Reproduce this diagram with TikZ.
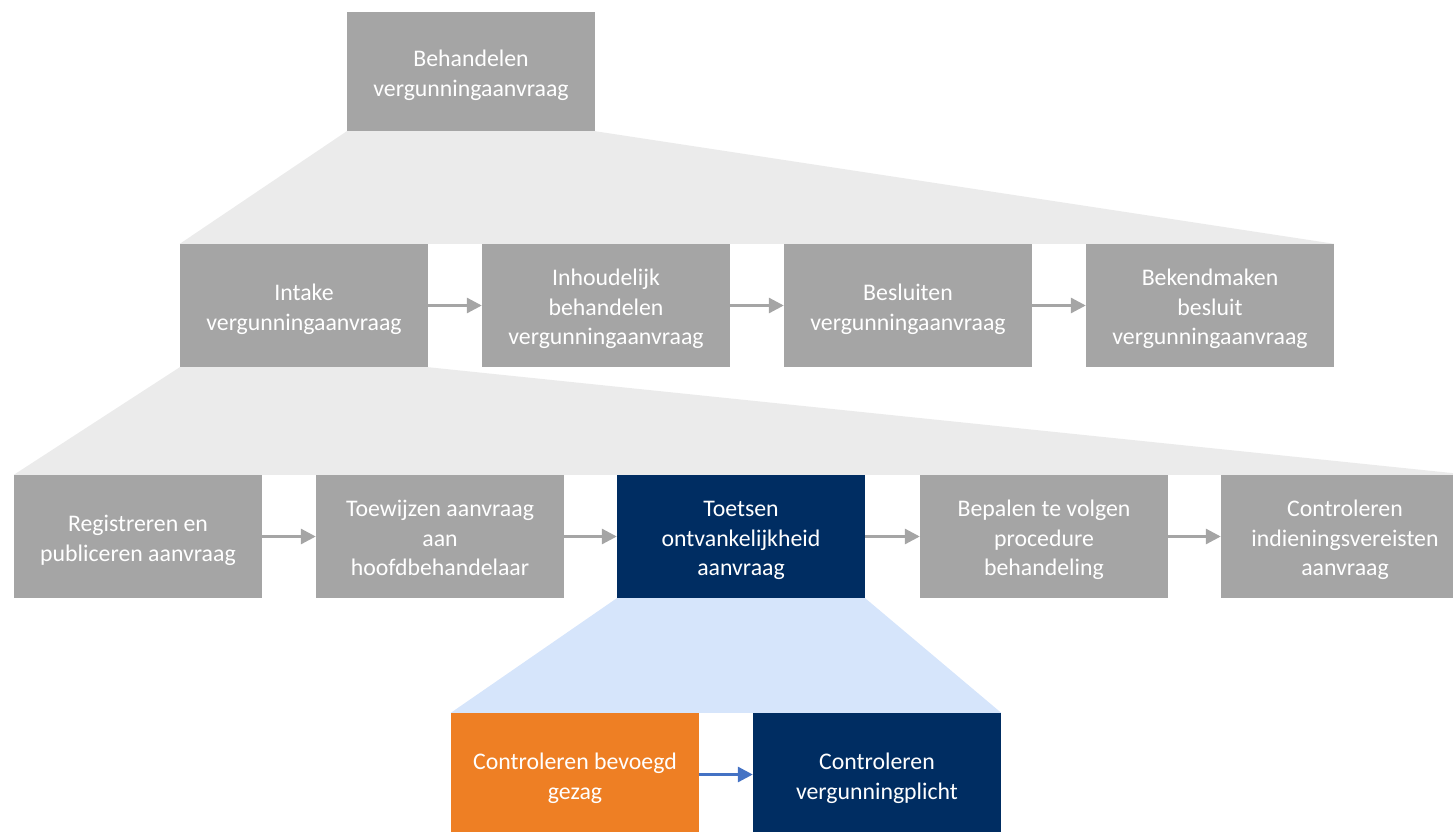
\documentclass[tikz,border=0pt]{standalone}
\usepackage{fontspec}
\setmainfont{Carlito}
\usepackage{xcolor}
\usetikzlibrary{arrows.meta,backgrounds}
\definecolor{boxgray}{HTML}{A5A5A5}
\definecolor{fangray}{HTML}{EBEBEB}
\definecolor{navy}{HTML}{002D62}
\definecolor{oranje}{HTML}{EE7F24}
\definecolor{fanblue}{HTML}{D6E5FB}
\definecolor{arrowblue}{HTML}{4472C4}
% lines of a box, centred (a little low)
\newcommand{\regels}[1]{\raisebox{-4pt}[\height][\depth]{\begin{tabular}{@{}c@{}}#1\end{tabular}}}

\begin{document}
\begin{tikzpicture}[x=1pt,y=-1pt,
		stap/.style={rectangle, fill=boxgray, text=white, minimum width=248pt, minimum height=123pt,
			inner sep=0pt, font=\fontsize{23.8}{29.5}\selectfont},
		pijl/.style={-{Triangle[length=15pt,width=15pt]}, line width=3pt, boxgray},
		blauwpijl/.style={-{Triangle[length=15pt,width=15pt]}, line width=3pt, arrowblue}]
				\useasboundingbox (0,0) rectangle (1453,832);
				\clip (0,0) rectangle (1453,832);
				
				% Top level
				\node[stap, minimum height=119pt] (beh) at (471,71.5) {\regels{Behandelen\\vergunningaanvraag}};
				
				% Second level
				\node[stap] (intake) at (304,305.5) {\regels{Intake\\vergunningaanvraag}};
				\node[stap] (inhoud) at (606,305.5) {\regels{Inhoudelijk\\behandelen\\vergunningaanvraag}};
				\node[stap] (besluit) at (908,305.5) {\regels{Besluiten\\vergunningaanvraag}};
				\node[stap] (bekend) at (1210,305.5) {\regels{Bekendmaken\\besluit\\vergunningaanvraag}};
				
				% Third level
				\node[stap] (regis) at (138,536.5) {\regels{Registreren en\\publiceren aanvraag}};
				\node[stap] (toew) at (440,536.5) {\regels{Toewijzen aanvraag\\aan\\hoofdbehandelaar}};
				\node[stap, fill=navy] (toets) at (741,536.5) {\regels{Toetsen\\ontvankelijkheid\\aanvraag}};
				\node[stap] (bepaal) at (1044,536.5) {\regels{Bepalen te volgen\\procedure\\behandeling}};
				\node[stap] (indien) at (1345,536.5) {\regels{Controleren\\indieningsvereisten\\aanvraag}};
				
				% Fourth level
				\node[stap, fill=oranje] (bevoegd) at (575,774.5) {\regels{Controleren bevoegd\\gezag}};
				\node[stap, fill=navy] (plicht) at (877,774.5) {\regels{Controleren\\vergunningplicht}};
				
				% Fans
				\begin{scope}[on background layer]
					\fill[fangray] (beh.south west) -- (beh.south east) -- (bekend.north east) -- (intake.north west) -- cycle;
					\fill[fangray] (intake.south west) -- (intake.south east) -- (indien.north east) -- (regis.north west) -- cycle;
					\fill[fanblue] (toets.south west) -- (toets.south east) -- (plicht.north east) -- (bevoegd.north west) -- cycle;
				\end{scope}
				
				% Arrows
				\draw[pijl] (intake) -- (inhoud);
				\draw[pijl] (inhoud) -- (besluit);
				\draw[pijl] (besluit) -- (bekend);
				\draw[pijl] (regis) -- (toew);
				\draw[pijl] (toew) -- (toets);
				\draw[pijl] (toets) -- (bepaal);
				\draw[pijl] (bepaal) -- (indien);
				\draw[blauwpijl] (bevoegd) -- (plicht);
				
			\end{tikzpicture}
\end{document}
